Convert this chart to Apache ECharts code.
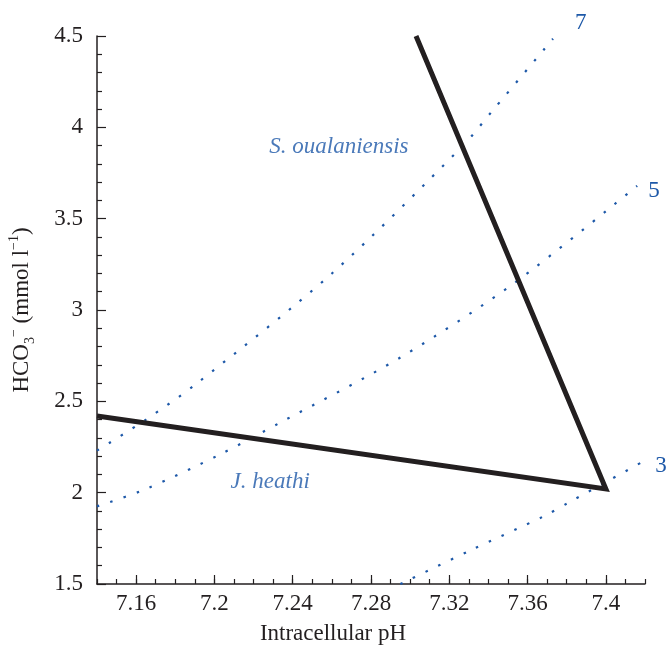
<!DOCTYPE html>
<html>
<head>
<meta charset="utf-8">
<script src="https://cdn.jsdelivr.net/npm/echarts@6/dist/echarts.min.js"></script>
<style>
  html, body { margin: 0; padding: 0; background: #fff; }
  #chart { width: 667px; height: 653px; }
</style>
</head>
<body>
<div id="chart"></div>
<script>
// intracellular pH vs HCO3-
const blackLine = [[7.14, 2.42], [7.40, 2.02], [7.303, 4.5]];

// dotted isopleths, labelled 7, 5, 3
const iso7 = [[7.14, 2.23], [7.165, 2.40], [7.19, 2.59], [7.26, 3.2], [7.327, 3.90], [7.342, 4.09], [7.373, 4.485]];
const iso5 = [[7.14, 1.925], [7.165, 2.02], [7.203, 2.21], [7.233, 2.38], [7.295, 2.74], [7.353, 3.146], [7.416, 3.68]];
const iso3 = [[7.295, 1.5], [7.33, 1.68], [7.3685, 1.872], [7.381, 1.946], [7.40, 2.058], [7.4186, 2.168]];

const speciesLabels = [[7.2636, 3.895, 'S. oualaniensis'], [7.2285, 2.057, 'J. heathi']];

const xTicks = [7.16, 7.2, 7.24, 7.28, 7.32, 7.36, 7.4];
const xMinorTicks = [];
for (let i = 0; i <= 28; i++) xMinorTicks.push(+(7.14 + i * 0.01).toFixed(2));

const blue = '#1d58a8';
const ink = '#231f20';
const font = 'Liberation Serif';
const fs = 23;

let myChart = echarts.init(document.getElementById('chart'));

function isoSeries(name, data, offset) {
  return {
    name: name,
    type: 'line',
    data: data,
    showSymbol: false,
    smooth: 0.3,
    lineStyle: { color: blue, width: 2.2, type: [2.5, 11.5] },
    endLabel: {
      show: true,
      formatter: name,
      color: blue,
      fontFamily: font,
      fontSize: fs,
      offset: offset
    },
    z: 2,
    silent: true
  };
}

let option = {
  animation: false,
  grid: { left: 97, right: 22, top: 36, bottom: 69, containLabel: false, outerBoundsMode: 'none' },
  xAxis: [
    {
      type: 'value',
      min: 7.14,
      max: 7.42,
      name: 'Intracellular pH',
      nameLocation: 'middle',
      nameGap: 38,
      nameTextStyle: { color: ink, fontFamily: font, fontSize: fs, padding: [0, 76, 0, 0] },
      axisLine: { lineStyle: { color: ink, width: 1.5 } },
      axisTick: { inside: true, length: 9, customValues: xTicks, lineStyle: { color: ink, width: 1.2 } },
      axisLabel: { customValues: xTicks, color: ink, fontFamily: font, fontSize: fs, margin: 8 },
      splitLine: { show: false }
    },
    {
      type: 'value',
      min: 7.14,
      max: 7.42,
      position: 'bottom',
      axisLine: { show: false },
      axisTick: { inside: true, length: 5, customValues: xMinorTicks, lineStyle: { color: ink, width: 1.2 } },
      axisLabel: { show: false },
      splitLine: { show: false }
    }
  ],
  yAxis: {
    type: 'value',
    min: 1.5,
    max: 4.5,
    interval: 0.5,
    name: 'HCO{sub|3}{sup|−} (mmol l{sup|−1})',
    nameLocation: 'middle',
    nameRotate: 90,
    nameGap: 60,
    nameTextStyle: {
      color: ink, fontFamily: font, fontSize: fs, lineHeight: 30,
      rich: {
        sub: { color: ink, fontFamily: font, fontSize: 14, verticalAlign: 'bottom', lineHeight: 30 },
        sup: { color: ink, fontFamily: font, fontSize: 14, verticalAlign: 'top', lineHeight: 30 }
      }
    },
    axisLine: { show: true, lineStyle: { color: ink, width: 1.5 } },
    axisTick: { show: true, inside: true, length: 9, lineStyle: { color: ink, width: 1.2 } },
    minorTick: { show: true, splitNumber: 5, length: 5, lineStyle: { color: ink, width: 1.2 } },
    axisLabel: { color: ink, fontFamily: font, fontSize: fs, margin: 14 },
    splitLine: { show: false }
  },
  series: [
    isoSeries('7', iso7, [14, -16]),
    isoSeries('5', iso5, [3, 5]),
    isoSeries('3', iso3, [5, 4]),
    {
      type: 'line',
      data: blackLine,
      showSymbol: false,
      lineStyle: { color: ink, width: 5, join: 'miter' },
      z: 3,
      silent: true
    },
    {
      type: 'scatter',
      data: speciesLabels,
      symbolSize: 0,
      label: {
        show: true,
        position: 'inside',
        formatter: p => p.data[2],
        color: blue,
        fontFamily: font,
        fontStyle: 'italic',
        fontSize: fs
      },
      z: 4,
      silent: true
    }
  ]
};

myChart.setOption(option);
</script>
</body>
</html>
